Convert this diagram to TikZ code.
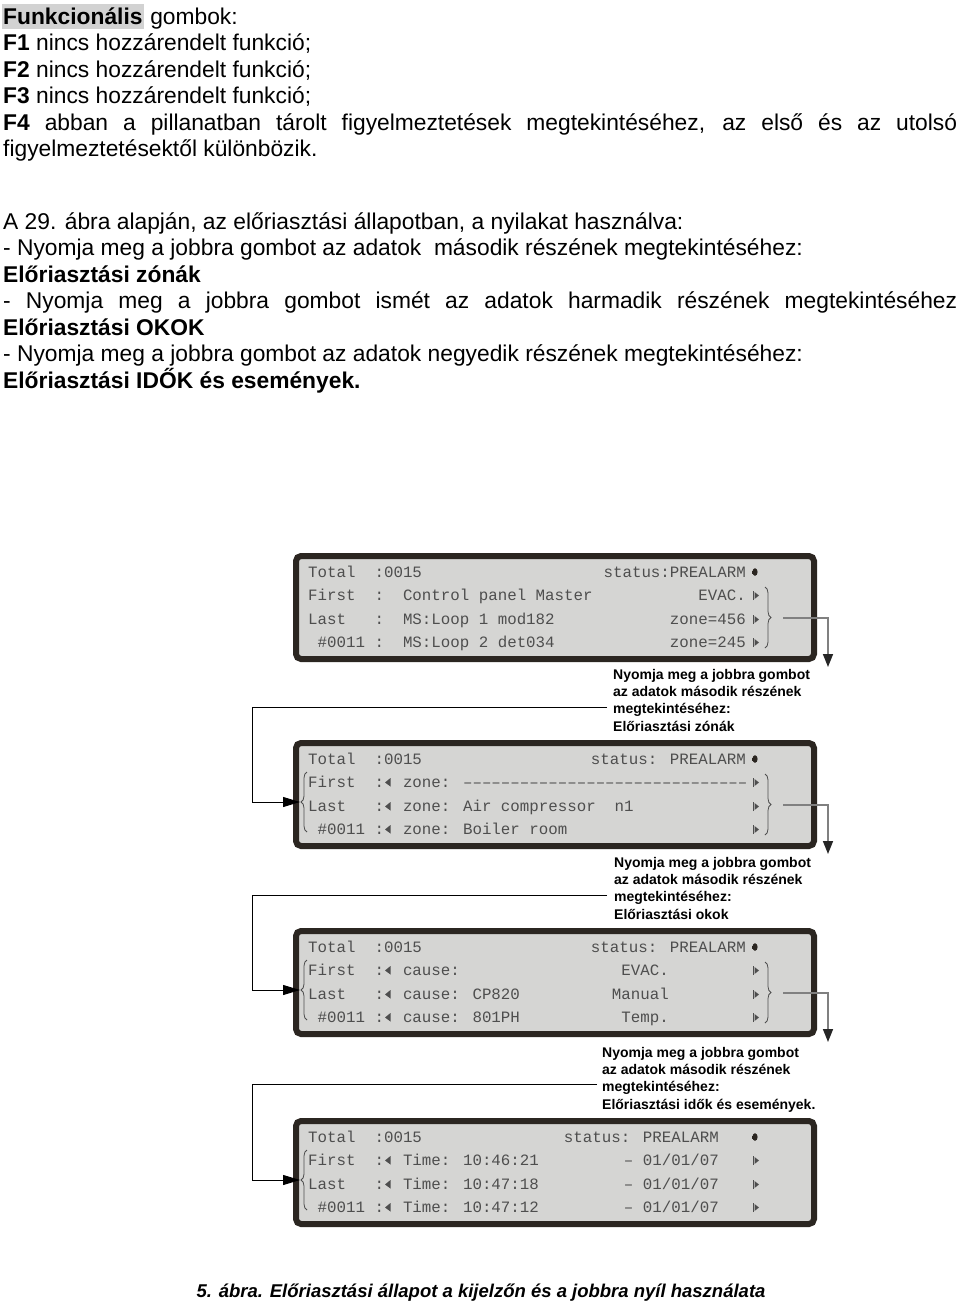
\documentclass[tikz,border=0pt]{standalone}
\usepackage{fontspec}
\setmainfont{Liberation Sans}
\newfontfamily\lcdfont{Liberation Mono}
\usepackage{xcolor}
\usetikzlibrary{arrows.meta,decorations.pathreplacing}

\definecolor{lcdback}{HTML}{D5D5D3}
\definecolor{lcdframe}{HTML}{2B2621}
\definecolor{lcdink}{HTML}{4E4E4E}
\definecolor{marker}{HTML}{D2D2D2}

\tikzset{
  pics/rmark/.style={code={\draw[lcdink,line width=.7pt] (0,0) -- (0,-9);
    \fill[lcdink] (1.5,-1) -- (6,-4.5) -- (1.5,-8) -- cycle;}},
  pics/lmark/.style={code={\fill[lcdink] (0,-4.5) -- (5.5,-9) -- (5.5,-0.5) -- cycle;}},
  pics/bell/.style={code={\fill[lcdframe] (2,-5) ellipse (2.6 and 3.8);
    \fill[lcdframe] (-1,-6.5) rectangle (1,-3.5);}}
}

\begin{document}
\begin{tikzpicture}[x=1pt,y=-1pt,
  txt/.style={anchor=base west,inner sep=0pt,font=\fontsize{22.8}{26.5}\selectfont},
  lcd/.style={anchor=base west,inner sep=0pt,text=lcdink,font=\lcdfont\fontsize{15.8}{16}\selectfont},
  lcdr/.style={lcd,anchor=base east},
  screen/.style={draw=lcdframe,fill=lcdback,line width=6pt,rounded corners=5pt},
  note/.style={anchor=north west,inner sep=0pt,align=left,font=\bfseries\fontsize{14}{17.3}\selectfont},
  brace/.style={decorate,decoration={brace,amplitude=6pt},line width=.8pt,draw=lcdink},
  back/.style={draw=black,line width=.9pt,-{Triangle[length=17pt,width=10pt]}},
  fwd/.style={draw=gray,line width=1.6pt,-{Triangle[length=13pt,width=10pt,color=black!85]}}]
\useasboundingbox (0,0) rectangle (960,1304);

% text above the figure
\node[txt,fill=marker,inner xsep=1pt,text height=20pt,text depth=5pt] (head) at (2,24) {\bfseries Funkcionális};
\node[txt] (head2) at (head.base east) {\ gombok:};
\node[txt] (f1) at (3,50.5) {\textbf{F1} nincs hozzárendelt funkció;};
\node[txt] (f2) at (3,77) {\textbf{F2} nincs hozzárendelt funkció;};
\node[txt] (f3) at (3,103.5) {\textbf{F3} nincs hozzárendelt funkció;};
\node[txt] (f4) at (3,130) {\makebox[954pt][s]{\textbf{F4} abban a pillanatban tárolt figyelmeztetések megtekintéséhez, az első és az utolsó}};
\node[txt] (f4b) at (3,156.5) {figyelmeztetésektől különbözik.};

\node[txt] (s1) at (3,229) {A 29. ábra alapján, az előriasztási állapotban, a nyilakat használva:};
\node[txt] (s2) at (3,255.5) {- Nyomja meg a jobbra gombot az adatok~ második részének megtekintéséhez:};
\node[txt] (s3) at (3,282) {\bfseries Előriasztási zónák};
\node[txt] (s4) at (3,308.5) {\makebox[954pt][s]{- Nyomja meg a jobbra gombot ismét az adatok harmadik részének megtekintéséhez}};
\node[txt] (s5) at (3,335) {\bfseries Előriasztási OKOK};
\node[txt] (s6) at (3,361.5) {- Nyomja meg a jobbra gombot az adatok negyedik részének megtekintéséhez:};
\node[txt] (s7) at (3,388) {\bfseries Előriasztási IDŐK és események.};

% screen 1
\draw[screen] (296,556) rectangle (814,659);
\node[lcd] (p1a) at (308,577) {Total~~:0015};
\node[lcdr] (p1b) at (746,577) {status:PREALARM};
\node[lcd] (p1c) at (308,600) {First~~:~~Control panel Master};
\node[lcdr] (p1d) at (746,600) {EVAC.};
\node[lcd] (p1e) at (308,624) {Last~~~:~~MS:Loop 1 mod182};
\node[lcdr] (p1f) at (746,624) {zone=456};
\node[lcd] (p1g) at (308,647) {~\#0011~:~~MS:Loop 2 det034};
\node[lcdr] (p1h) at (746,647) {zone=245};
\pic at (753,577) {bell};
\pic at (753,600) {rmark};
\pic at (753,624) {rmark};
\pic at (753,647) {rmark};
\draw[brace] (765,587) -- (765,648);
\coordinate (r1) at (783,618);
\coordinate (d1) at (828,667);
\draw[fwd] (r1) -| (d1);

\node[note] (note1) at (613,669) {Nyomja meg a jobbra gombot\\az adatok második részének\\megtekintéséhez:\\Előriasztási zónák};
\coordinate (n1) at (607,707);

% screen 2
\draw[screen] (296,743) rectangle (814,846);
\node[lcd] (p2a) at (308,764) {Total~~:0015};
\node[lcdr] (p2b) at (746,764) {status: PREALARM};
\node[lcd] (p2c) at (308,787) {First~~:~~zone: ––––––––––––––––––––––––––––––};
\node[lcd] (p2e) at (308,811) {Last~~~:~~zone: Air compressor~~n1};
\node[lcd] (p2g) at (308,834) {~\#0011~:~~zone: Boiler room};
\pic at (385,787) {lmark};
\pic at (385,811) {lmark};
\pic at (385,834) {lmark};
\pic at (753,764) {bell};
\pic at (753,787) {rmark};
\pic at (753,811) {rmark};
\pic at (753,834) {rmark};
\draw[brace] (307,832) -- (307,772);
\coordinate (l2) at (300,802);
\draw[back] (n1) -| ([xshift=-48pt]l2) -- (l2);
\draw[brace] (765,774) -- (765,835);
\coordinate (r2) at (783,805);
\coordinate (d2) at (828,854);
\draw[fwd] (r2) -| (d2);

\node[note] (note2) at (614,857) {Nyomja meg a jobbra gombot\\az adatok második részének\\megtekintéséhez:\\Előriasztási okok};
\coordinate (n2) at (607,895);

% screen 3
\draw[screen] (296,931) rectangle (814,1034);
\node[lcd] (p3a) at (308,952) {Total~~:0015};
\node[lcdr] (p3b) at (746,952) {status: PREALARM};
\node[lcd] (p3c) at (308,975) {First~~:~~cause:};
\node[lcdr] (p3d) at (669,975) {EVAC.};
\node[lcd] (p3e) at (308,999) {Last~~~:~~cause: CP820};
\node[lcdr] (p3f) at (669,999) {Manual};
\node[lcd] (p3g) at (308,1022) {~\#0011~:~~cause: 801PH};
\node[lcdr] (p3h) at (669,1022) {Temp.};
\pic at (385,975) {lmark};
\pic at (385,999) {lmark};
\pic at (385,1022) {lmark};
\pic at (753,952) {bell};
\pic at (753,975) {rmark};
\pic at (753,999) {rmark};
\pic at (753,1022) {rmark};
\draw[brace] (307,1020) -- (307,960);
\coordinate (l3) at (300,990);
\draw[back] (n2) -| ([xshift=-48pt]l3) -- (l3);
\draw[brace] (765,962) -- (765,1023);
\coordinate (r3) at (783,993);
\coordinate (d3) at (828,1042);
\draw[fwd] (r3) -| (d3);

\node[note] (note3) at (602,1047) {Nyomja meg a jobbra gombot\\az adatok második részének\\megtekintéséhez:\\Előriasztási idők és események.};
\coordinate (n3) at (597,1084);

% screen 4
\draw[screen] (296,1121) rectangle (814,1224);
\node[lcd] (p4a) at (308,1142) {Total~~:0015};
\node[lcdr] (p4b) at (719,1142) {status: PREALARM};
\node[lcd] (p4c) at (308,1165) {First~~:~~Time: 10:46:21};
\node[lcdr] (p4d) at (719,1165) {– 01/01/07};
\node[lcd] (p4e) at (308,1189) {Last~~~:~~Time: 10:47:18};
\node[lcdr] (p4f) at (719,1189) {– 01/01/07};
\node[lcd] (p4g) at (308,1212) {~\#0011~:~~Time: 10:47:12};
\node[lcdr] (p4h) at (719,1212) {– 01/01/07};
\pic at (385,1165) {lmark};
\pic at (385,1189) {lmark};
\pic at (385,1212) {lmark};
\pic at (753,1142) {bell};
\pic at (753,1165) {rmark};
\pic at (753,1189) {rmark};
\pic at (753,1212) {rmark};
\draw[brace] (307,1210) -- (307,1150);
\coordinate (l4) at (300,1180);
\draw[back] (n3) -| ([xshift=-48pt]l4) -- (l4);

\node[anchor=base,inner sep=0pt,font=\bfseries\itshape\fontsize{18.5}{20}\selectfont] (cap) at (481,1297) {5. ábra. Előriasztási állapot a kijelzőn és a jobbra nyíl használata};
\end{tikzpicture}
\end{document}
